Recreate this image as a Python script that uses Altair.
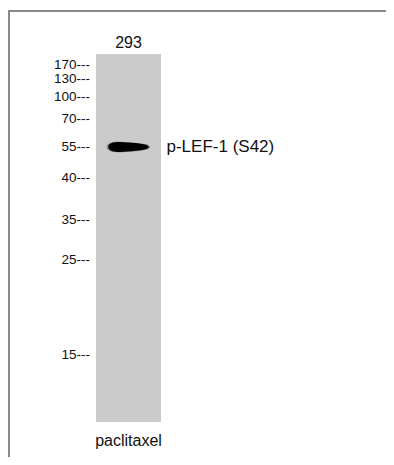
import altair as alt
import pandas as pd

# ---- data ----
lanes = ["293"]
treatment = ["paclitaxel"]
marker_labels = ["170", "130", "100", "70", "55", "40", "35", "25", "15"]
marker_kda = [170, 130, 100, 70, 55, 40, 35, 25, 15]
# migration distance of each marker in the gel (pixels from the top of the view)
marker_migration = [57, 71, 89, 111, 139, 170, 212, 252, 347]
band_lane = ["293"]
band_kda = [55]
band_name = ["p-LEF-1 (S42)"]

W, H = 378, 449
FONT = "Liberation Sans"

mk = pd.DataFrame({"label": [m + "---" for m in marker_labels], "kda": marker_kda})
lane_df = pd.DataFrame({"lane": lanes, "treat": treatment})
band_df = pd.DataFrame({"lane": band_lane, "kda": band_kda, "name": band_name})

yscale = alt.Scale(domain=marker_kda, range=marker_migration)
xscale = alt.Scale(domain=lanes, range=[88, 153], paddingInner=0, paddingOuter=0)

Y = alt.Y("kda:Q", scale=yscale, axis=None)
XC = alt.X("lane:N", scale=xscale, axis=None, bandPosition=0.5)

lane_rect = alt.Chart(lane_df).mark_rect(color="#cbcbcb").encode(
    x=alt.X("lane:N", scale=xscale, axis=None), y=alt.value(46), y2=alt.value(414)
)

band_path = ("M-1,0 C-1,-0.26 -0.5,-0.27 0,-0.22 C0.5,-0.18 1,-0.15 1,0 "
             "C1,0.15 0.5,0.18 0,0.22 C-0.5,0.27 -1,0.26 -1,0 Z")
band_glow = alt.Chart(band_df).mark_point(
    shape=band_path, filled=True, color="#444444", opacity=0.35, size=1950
).encode(x=XC, y=Y)
band = alt.Chart(band_df).mark_point(
    shape=band_path, filled=True, color="#000000", opacity=1, size=1650
).encode(x=XC, y=Y)

band_label = alt.Chart(band_df).mark_text(
    align="left", baseline="middle", font=FONT, fontSize=17, color="#111111", dx=38
).encode(x=XC, y=Y, text="name:N")

markers = alt.Chart(mk).mark_text(
    align="right", baseline="middle", font=FONT, fontSize=13.5, color="#111111"
).encode(x=alt.value(82), y=Y, text="label:N")

lane_title = alt.Chart(lane_df).mark_text(
    align="center", baseline="middle", font=FONT, fontSize=16, color="#111111"
).encode(x=XC, y=alt.value(34.5), text="lane:N")

treat_label = alt.Chart(lane_df).mark_text(
    align="center", baseline="alphabetic", font=FONT, fontSize=16, color="#111111"
).encode(x=XC, y=alt.value(438), text="treat:N")

border_top = alt.Chart(lane_df).mark_rule(color="#8a8a8a", strokeWidth=2).encode(
    x=alt.value(0), x2=alt.value(W), y=alt.value(3)
)
border_left = alt.Chart(lane_df).mark_rule(color="#8a8a8a", strokeWidth=2).encode(
    x=alt.value(1), y=alt.value(2), y2=alt.value(H)
)

chart = alt.layer(
    lane_rect, band_glow, band, band_label, markers, lane_title, treat_label,
    border_top, border_left
).properties(
    width=W, height=H, padding=0, autosize=alt.AutoSizeParams(type="none")
).configure(background="white", view=alt.ViewConfig(stroke=None))

chart.save("out.html", embed_options={"renderer": "svg", "actions": False})
